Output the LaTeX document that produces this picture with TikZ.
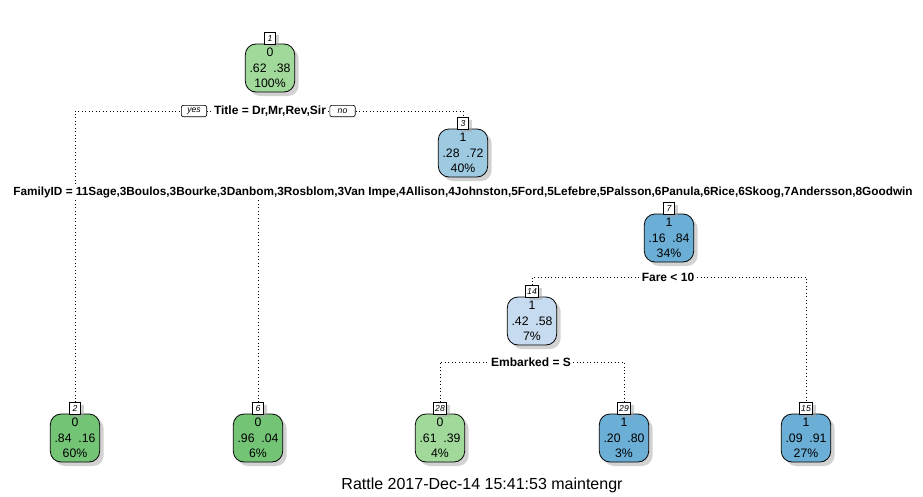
\documentclass[tikz,border=0pt]{standalone}
\usepackage{fontspec}
\setmainfont{Liberation Sans}
\usetikzlibrary{shadows,backgrounds}
\definecolor{grLight}{HTML}{A1D99B}
\definecolor{grDark}{HTML}{74C476}
\definecolor{blPale}{HTML}{C6DBEF}
\definecolor{blLight}{HTML}{9ECAE1}
\definecolor{blDark}{HTML}{6BAED6}
\tikzset{
  treebox/.style={draw, line width=0.6pt, rounded corners=8pt, minimum width=37pt,
    minimum height=36pt, align=center, inner sep=2pt,
    font=\fontsize{9.2}{11.6}\selectfont,
    drop shadow={shadow xshift=3pt, shadow yshift=-3pt, fill=black!35}},
  numbox/.style={draw, fill=white, line width=0.5pt, anchor=south, inner sep=1.2pt,
    minimum width=8pt, minimum height=8.5pt, yshift=-0.5pt,
    font=\fontsize{6.5}{7}\selectfont\itshape,
    drop shadow={shadow xshift=2.5pt, shadow yshift=-2pt, fill=black!35}},
  splitlab/.style={fill=white, inner sep=1pt, font=\fontsize{9}{10}\selectfont\bfseries},
  ynbox/.style={draw, fill=white, line width=0.5pt, rounded corners=1.5pt, inner sep=1pt,
    minimum width=19pt, minimum height=8.5pt, font=\fontsize{6.5}{7}\selectfont\itshape},
  conn/.style={dotted, line width=0.6pt}
}
\begin{document}
\begin{tikzpicture}[x=0.75pt,y=-0.75pt]
\useasboundingbox (0,0) rectangle (923,496);
\node[treebox,fill=grLight] (n1) at (270,68) {0\\.62\ \ .38\\100\%};
\node[numbox] (k1) at (n1.north) {1};
\node[treebox,fill=blLight] (n3) at (463,153) {1\\.28\ \ .72\\40\%};
\node[numbox] (k3) at (n3.north) {3};
\node[treebox,fill=blDark] (n7) at (669,238) {1\\.16\ \ .84\\34\%};
\node[numbox] (k7) at (n7.north) {7};
\node[treebox,fill=blPale] (n14) at (532,321) {1\\.42\ \ .58\\7\%};
\node[numbox] (k14) at (n14.north) {14};
\node[treebox,fill=grDark] (n2) at (75,438) {0\\.84\ \ .16\\60\%};
\node[numbox] (k2) at (n2.north) {2};
\node[treebox,fill=grDark] (n6) at (258,438) {0\\.96\ \ .04\\6\%};
\node[numbox] (k6) at (n6.north) {6};
\node[treebox,fill=grLight] (n28) at (440,438) {0\\.61\ \ .39\\4\%};
\node[numbox] (k28) at (n28.north) {28};
\node[treebox,fill=blDark] (n29) at (624,438) {1\\.20\ \ .80\\3\%};
\node[numbox] (k29) at (n29.north) {29};
\node[treebox,fill=blDark] (n15) at (806,438) {1\\.09\ \ .91\\27\%};
\node[numbox] (k15) at (n15.north) {15};

\node[splitlab] (s1) at (270,111) {Title = Dr,Mr,Rev,Sir};
\node[ynbox] (yes) at (194,111) {yes};
\node[ynbox] (no) at (342.5,111) {no};
\node[splitlab,font=\fontsize{8.85}{10}\selectfont\bfseries] (s3) at (463,192) {FamilyID = 11Sage,3Boulos,3Bourke,3Danbom,3Rosblom,3Van Impe,4Allison,4Johnston,5Ford,5Lefebre,5Palsson,6Panula,6Rice,6Skoog,7Andersson,8Goodwin};
\node[splitlab] (s7) at (668,277) {Fare < 10};
\node[splitlab] (s14) at (531,362) {Embarked = S};

\node[font=\fontsize{12}{14}\selectfont] (stamp) at (482,485) {Rattle 2017-Dec-14 15:41:53 maintengr};

\begin{scope}[on background layer]
\draw[conn] (k2.north) |- (s1.center) -| (k3.north);
\draw[conn] (k6.north) |- (s3.center) -| (k7.north);
\draw[conn] (k14.north) |- (s7.center) -| (k15.north);
\draw[conn] (k28.north) |- (s14.center) -| (k29.north);
\end{scope}
\end{tikzpicture}
\end{document}
